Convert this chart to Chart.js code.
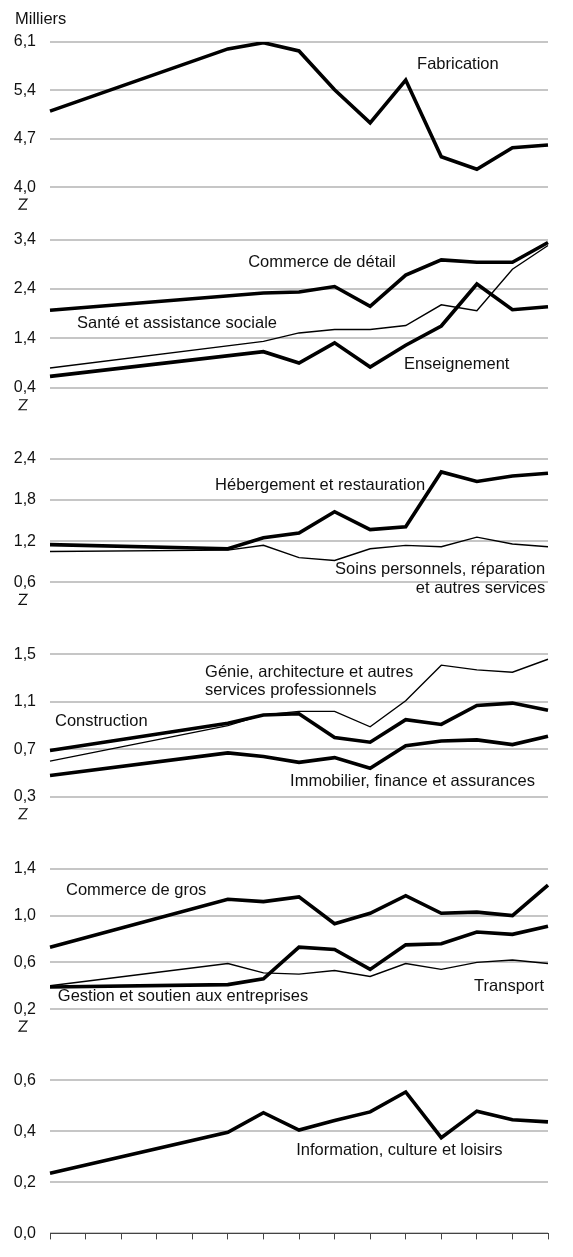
<!DOCTYPE html>
<html lang="fr">
<head>
<meta charset="utf-8">
<title>Emploi par industrie</title>
<script src="https://cdn.jsdelivr.net/npm/chart.js@4.4.1/dist/chart.umd.min.js"></script>
<style>
  html, body { margin: 0; padding: 0; background: #fff; }
  #chart { display: block; }
</style>
</head>
<body>
<canvas id="chart" width="573" height="1257"></canvas>
<script>
// Emploi par industrie, en milliers : six panneaux empilés sur un même axe horizontal

const periods = ['1', '2', '3', '4', '5', '6', '7', '8', '9', '10', '11', '12', '13', '14', '15'];

// panneau 1
const fabrication = [5.10, null, null, null, null, 6.00, 6.09, 5.97, 5.41, 4.93, 5.55, 4.44, 4.26, 4.57, 4.61];
// panneau 2
const commerceDetail = [1.97, null, null, null, null, null, 2.32, 2.34, 2.45, 2.05, 2.68, 2.99, 2.94, 2.94, 3.34];
const sante = [0.80, null, null, null, null, null, 1.34, 1.51, 1.58, 1.58, 1.66, 2.08, 1.96, 2.80, 3.28];
const enseignement = [0.63, null, null, null, null, null, 1.13, 0.90, 1.31, 0.82, 1.26, 1.65, 2.50, 1.98, 2.04];
// panneau 3
const hebergement = [1.15, null, null, null, null, 1.09, 1.25, 1.32, 1.63, 1.37, 1.41, 2.21, 2.07, 2.15, 2.19];
const soins = [1.05, null, null, null, null, 1.07, 1.14, 0.96, 0.92, 1.09, 1.14, 1.12, 1.26, 1.16, 1.12];
// panneau 4
const genie = [0.60, null, null, null, null, 0.90, 0.99, 1.02, 1.02, 0.89, 1.11, 1.41, 1.37, 1.35, 1.46];
const construction = [0.69, null, null, null, null, 0.92, 0.99, 1.00, 0.80, 0.76, 0.95, 0.91, 1.07, 1.09, 1.03];
const immobilier = [0.48, null, null, null, null, 0.67, 0.64, 0.59, 0.63, 0.54, 0.73, 0.77, 0.78, 0.74, 0.81];
// panneau 5
const commerceGros = [0.73, null, null, null, null, 1.14, 1.12, 1.16, 0.93, 1.02, 1.17, 1.02, 1.03, 1.00, 1.26];
const gestion = [0.39, null, null, null, null, 0.41, 0.46, 0.73, 0.71, 0.54, 0.75, 0.76, 0.86, 0.84, 0.91];
const transport = [0.40, null, null, null, null, 0.59, 0.51, 0.50, 0.53, 0.48, 0.59, 0.54, 0.60, 0.62, 0.59];
// panneau 6
const information = [0.236, null, null, null, null, 0.396, 0.473, 0.405, 0.442, 0.476, 0.554, 0.375, 0.479, 0.445, 0.437];

// graduations de chaque panneau
const ticksP1 = [4.0, 4.7, 5.4, 6.1];
const ticksP2 = [0.4, 1.4, 2.4, 3.4];
const ticksP3 = [0.6, 1.2, 1.8, 2.4];
const ticksP4 = [0.3, 0.7, 1.1, 1.5];
const ticksP5 = [0.2, 0.6, 1.0, 1.4];
const ticksP6 = [0.0, 0.2, 0.4, 0.6];

const FONT = 'Arial, "Liberation Sans", sans-serif';

function line(label, data, axis, thick) {
    return {
        label: label,
        data: data,
        yAxisID: axis,
        borderColor: '#000',
        borderWidth: thick ? 3.6 : 1.4,
        pointRadius: 0,
        pointHoverRadius: 0,
        tension: 0,
        spanGaps: true,
        fill: false
    };
}

// un axe vertical par panneau; gridPx = hauteur entre la 1re et la dernière graduation,
// slotPx = place totale du panneau (graduations + espace vide dessous)
function panelAxis(tickValues, gridPx, slotPx) {
    const top = tickValues[tickValues.length - 1];
    const bottom = tickValues[0];
    const perPx = (top - bottom) / gridPx;
    return {
        type: 'linear',
        position: 'left',
        stack: 'panels',
        stackWeight: slotPx,
        min: top - slotPx * perPx,
        max: top,
        afterBuildTicks: axis => {
            axis.ticks = tickValues.map(v => ({ value: v }));
        },
        afterFit: axis => {
            axis.width = 50;
        },
        border: { display: false },
        grid: {
            color: '#c6c6c6',
            lineWidth: 2,
            drawTicks: false
        },
        ticks: {
            padding: 14,
            color: '#111',
            autoSkip: false,
            font: { family: FONT, size: 16 },
            callback: v => v.toFixed(1).replace('.', ',')
        }
    };
}

// étiquettes des séries, placées en coordonnées de données
const notes = [
    { axis: 'p1', x: 10.32, y: 5.77, text: 'Fabrication' },
    { axis: 'p2', x: 5.57, y: 2.94, text: 'Commerce de détail' },
    { axis: 'p2', x: 0.76, y: 1.70, text: 'Santé et assistance sociale' },
    { axis: 'p2', x: 9.95, y: 0.88, text: 'Enseignement' },
    { axis: 'p3', x: 4.64, y: 2.011, text: 'Hébergement et restauration' },
    { axis: 'p3', x: 13.92, y: 0.787, text: 'Soins personnels, réparation', align: 'right' },
    { axis: 'p3', x: 13.92, y: 0.514, text: 'et autres services', align: 'right' },
    { axis: 'p4', x: 4.36, y: 1.35, text: 'Génie, architecture et autres' },
    { axis: 'p4', x: 4.36, y: 1.20, text: 'services professionnels' },
    { axis: 'p4', x: 0.14, y: 0.933, text: 'Construction' },
    { axis: 'p4', x: 6.75, y: 0.433, text: 'Immobilier, finance et assurances' },
    { axis: 'p5', x: 0.45, y: 1.214, text: 'Commerce de gros' },
    { axis: 'p5', x: 0.22, y: 0.310, text: 'Gestion et soutien aux entreprises' },
    { axis: 'p5', x: 13.89, y: 0.394, text: 'Transport', align: 'right' },
    { axis: 'p6', x: 6.92, y: 0.325, text: 'Information, culture et loisirs' }
];

const seriesLabels = {
    id: 'seriesLabels',
    afterDraw(chart) {
        const ctx = chart.ctx;
        const xs = chart.scales.x;
        ctx.save();
        ctx.fillStyle = '#111';
        ctx.textBaseline = 'middle';
        ctx.font = '16.5px ' + FONT;
        notes.forEach(n => {
            ctx.textAlign = n.align || 'left';
            ctx.fillText(n.text, xs.getPixelForValue(n.x), chart.scales[n.axis].getPixelForValue(n.y));
        });

        // unité en tête de l'axe
        ctx.textAlign = 'left';
        ctx.fillText('Milliers', 15, 19);

        // coupures d'axe sous chaque panneau tronqué
        ctx.strokeStyle = '#111';
        ctx.lineWidth = 1.2;
        ['p1', 'p2', 'p3', 'p4', 'p5'].forEach(id => {
            const s = chart.scales[id];
            const yb = s.getPixelForValue(s.ticks[0].value) + 12;
            ctx.beginPath();
            ctx.moveTo(19, yb);
            ctx.lineTo(27, yb);
            ctx.lineTo(19, yb + 10);
            ctx.lineTo(27, yb + 10);
            ctx.stroke();
        });
        ctx.restore();
    }
};

new Chart(document.getElementById('chart'), {
    type: 'line',
    data: {
        labels: periods,
        datasets: [
            line('Fabrication', fabrication, 'p1', true),
            line('Commerce de détail', commerceDetail, 'p2', true),
            line('Santé et assistance sociale', sante, 'p2', false),
            line('Enseignement', enseignement, 'p2', true),
            line('Hébergement et restauration', hebergement, 'p3', true),
            line('Soins personnels, réparation et autres services', soins, 'p3', false),
            line('Génie, architecture et autres services professionnels', genie, 'p4', false),
            line('Construction', construction, 'p4', true),
            line('Immobilier, finance et assurances', immobilier, 'p4', true),
            line('Commerce de gros', commerceGros, 'p5', true),
            line('Gestion et soutien aux entreprises', gestion, 'p5', true),
            line('Transport', transport, 'p5', false),
            line('Information, culture et loisirs', information, 'p6', true)
        ]
    },
    options: {
        responsive: false,
        animation: false,
        devicePixelRatio: 1,
        layout: {
            padding: { top: 42, right: 25, bottom: 0, left: 0 }
        },
        plugins: {
            legend: { display: false },
            tooltip: { enabled: false }
        },
        scales: {
            x: {
                z: 1,
                offset: false,
                afterFit: axis => {
                    axis.height = 9;
                },
                border: { display: true, color: '#444', width: 1 },
                grid: {
                    drawOnChartArea: false,
                    drawTicks: true,
                    tickLength: 6,
                    color: '#444',
                    lineWidth: 1
                },
                ticks: { display: false }
            },
            // le dernier axe déclaré se place en haut de la pile
            p6: panelAxis(ticksP6, 155, 155),
            p5: panelAxis(ticksP5, 142, 214),
            p4: panelAxis(ticksP4, 144, 217),
            p3: panelAxis(ticksP3, 125, 198),
            p2: panelAxis(ticksP2, 150, 222),
            p1: panelAxis(ticksP1, 147, 200)
        }
    },
    plugins: [seriesLabels]
});
</script>
</body>
</html>
